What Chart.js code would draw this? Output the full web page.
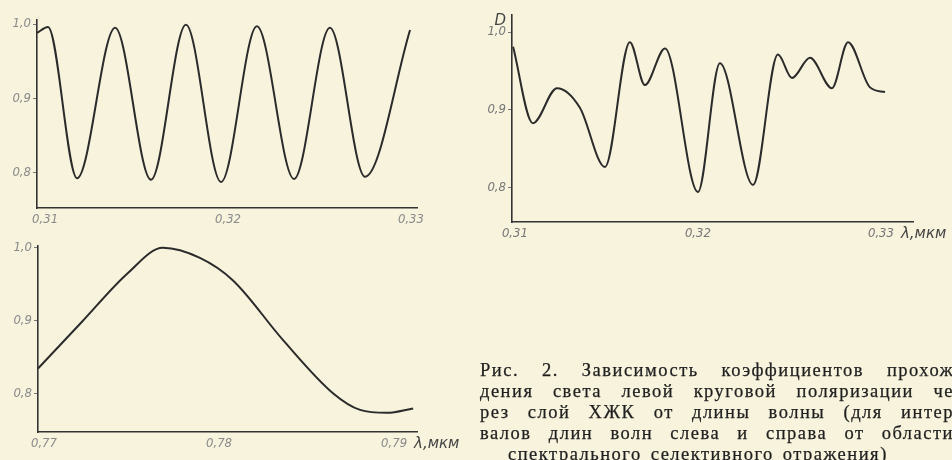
<!DOCTYPE html>
<html>
<head>
<meta charset="utf-8">
<script src="https://cdn.jsdelivr.net/npm/chart.js@4.4.1/dist/chart.umd.min.js"></script>
<style>
  html, body { margin: 0; padding: 0; }
  body { width: 952px; height: 460px; overflow: hidden; position: relative; background: #f7f3dd; }
  canvas { position: absolute; }
  #caption { position: absolute; left: 480px; top: 360px; width: 474px;
    font-family: "Liberation Serif", "DejaVu Serif", serif; font-size: 18.5px; line-height: 21px;
    color: #1f1f1f; letter-spacing: 1.5px; -webkit-text-stroke: 0.25px #1f1f1f; }
  #caption .ln { display: flex; justify-content: space-between; white-space: nowrap; }
  #caption .ln.last { justify-content: flex-start; padding-left: 28px; }
  #caption .ln.last span { margin-right: 9px; }
</style>
</head>
<body>
<canvas id="c1"></canvas>
<canvas id="c2"></canvas>
<canvas id="c3"></canvas>
<div id="caption"></div>
<script>
// left panel, short waves (0.31 - 0.33 mkm)
const lambda1 = [0.30956, 0.31016, 0.31175, 0.31383, 0.31579, 0.31770, 0.31962, 0.32158, 0.32361, 0.32557, 0.32749, 0.32995];
const trans1  = [0.988,   0.996,   0.793,   0.995,   0.791,   0.999,   0.788,   0.997,   0.792,   0.995,   0.795,   0.992];

// right panel, same interval, measured D
const lambda2 = [0.30990, 0.31098, 0.31230, 0.31355, 0.31492, 0.31628, 0.31710, 0.31820, 0.32000, 0.32120,
                 0.32301, 0.32437, 0.32514, 0.32612, 0.32732, 0.32820, 0.32940, 0.33022];
const trans2  = [0.981,   0.883,   0.928,   0.903,   0.827,   0.987,   0.932,   0.979,   0.795,   0.960,
                 0.804,   0.971,   0.941,   0.967,   0.928,   0.987,   0.929,   0.923];

// bottom panel, long waves (0.77 - 0.79 mkm)
const lambda3 = [0.76966, 0.77220, 0.77474, 0.77680, 0.77891, 0.78080, 0.78366, 0.78651, 0.78806, 0.78960, 0.79109];
const trans3  = [0.834,   0.899,   0.964,   1.000,   0.986,   0.955,   0.873,   0.800,   0.777,   0.773,   0.779];

const xTicksShort = [0.31, 0.32, 0.33];
const xTicksLong = [0.77, 0.78, 0.79];
const yTicks = [0.8, 0.9, 1.0];

const captionLines = [
  'Рис. 2. Зависимость коэффициентов прохож',
  'дения света левой круговой поляризации че',
  'рез слой ХЖК от длины волны (для интер',
  'валов длин волн слева и справа от области',
  'спектрального селективного отражения)'
];

const tickFont = { family: '"DejaVu Sans Condensed", "DejaVu Sans", sans-serif', style: 'italic', size: 13 };

// draws the unit after the last x label and the name of the y axis
const axisNotes = {
  id: 'axisNotes',
  afterDraw(chart, args, opts) {
    const ctx = chart.ctx;
    const xs = chart.scales.x;
    const area = chart.chartArea;
    ctx.save();
    ctx.font = 'italic 15px "DejaVu Sans", sans-serif';
    ctx.fillStyle = '#454545';
    ctx.textBaseline = 'middle';
    if (opts.unit) {
      const last = xs.ticks[xs.ticks.length - 1].value;
      ctx.textAlign = 'left';
      ctx.fillText(opts.unit, xs.getPixelForValue(last) + 20, area.bottom + 12);
    }
    if (opts.yName) {
      ctx.textAlign = 'right';
      ctx.fillText(opts.yName, area.left - 6, area.top + 6);
    }
    ctx.restore();
  }
};

function panel(id, box, xs, ys, xTicks, range, fit, notes, labelColor) {
  const cv = document.getElementById(id);
  cv.style.left = box.left + 'px';
  cv.style.top = box.top + 'px';
  cv.width = box.width;
  cv.height = box.height;
  return new Chart(cv, {
    type: 'line',
    data: {
      datasets: [{
        data: xs.map((x, i) => ({ x: x, y: ys[i] })),
        borderColor: '#2b2b2b',
        borderWidth: 2,
        pointRadius: 0,
        fill: false,
        cubicInterpolationMode: 'monotone'
      }]
    },
    plugins: [axisNotes],
    options: {
      responsive: false,
      animation: false,
      events: [],
      layout: { padding: { top: fit.top, right: fit.right, left: 0, bottom: 0 } },
      plugins: { legend: { display: false }, tooltip: { enabled: false }, axisNotes: notes },
      scales: {
        x: {
          type: 'linear',
          min: range[0], max: range[1],
          afterBuildTicks: s => { s.ticks = xTicks.map(v => ({ value: v })); },
          afterFit: s => { s.height = fit.xh; },
          ticks: { font: tickFont, color: labelColor, padding: 4, maxRotation: 0,
                   callback: v => v.toFixed(2).replace('.', ',') },
          grid: { display: false, drawTicks: false },
          border: { display: true, color: '#333', width: 1.6 }
        },
        y: {
          type: 'linear',
          min: range[2], max: range[3],
          afterBuildTicks: s => { s.ticks = yTicks.map(v => ({ value: v })); },
          afterFit: s => { s.width = fit.yw; },
          ticks: { font: tickFont, color: labelColor, padding: 2,
                   callback: v => v.toFixed(1).replace('.', ',') },
          grid: { display: true, drawOnChartArea: false, drawTicks: true, tickLength: 4, color: '#777', lineWidth: 1 },
          border: { display: true, color: '#333', width: 1.6 }
        }
      }
    }
  });
}

panel('c1', { left: 0, top: 0, width: 430, height: 235 }, lambda1, trans1, xTicksShort,
      [0.30956, 0.33033, 0.753, 1.0054], { top: 20, right: 13, xh: 27, yw: 37 }, {}, '#8a8a8a');

panel('c2', { left: 470, top: 0, width: 482, height: 250 }, lambda2, trans2, xTicksShort,
      [0.30984, 0.33175, 0.7564, 1.0218], { top: 15, right: 39, xh: 28, yw: 42 },
      { unit: 'λ,мкм', yName: 'D' }, '#777');

panel('c3', { left: 0, top: 236, width: 480, height: 224 }, lambda3, trans3, xTicksLong,
      [0.76966, 0.79131, 0.7466, 1.0027], { top: 9, right: 63, xh: 28, yw: 38 },
      { unit: 'λ,мкм' }, '#8a8a8a');

const cap = document.getElementById('caption');
captionLines.forEach((line, i) => {
  const d = document.createElement('div');
  d.className = 'ln' + (i === captionLines.length - 1 ? ' last' : '');
  line.split(' ').forEach(w => {
    const s = document.createElement('span');
    s.textContent = w;
    d.appendChild(s);
  });
  cap.appendChild(d);
});
</script>
</body>
</html>
